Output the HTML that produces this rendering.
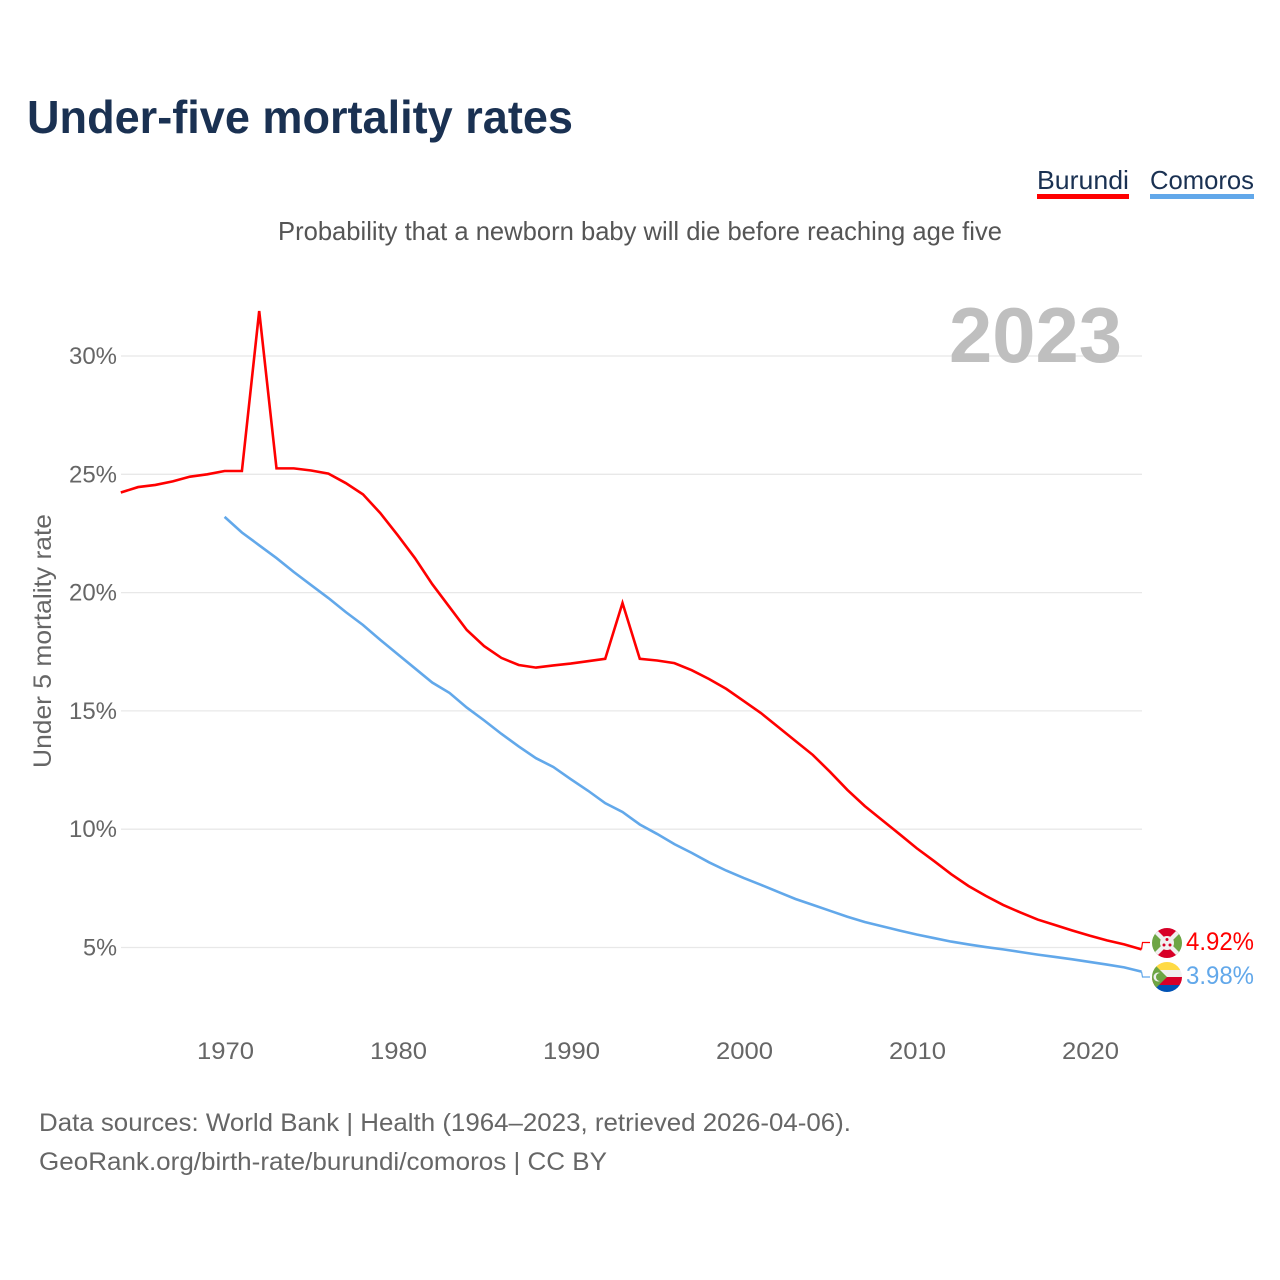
<!DOCTYPE html>
<html lang="en">
<head>
<meta charset="utf-8">
<title>Under-five mortality rates</title>
<style>
html,body{margin:0;padding:0;background:#fff;width:1280px;height:1280px;overflow:hidden}
svg{display:block}
text{font-family:"Liberation Sans",sans-serif}
</style>
</head>
<body>
<svg id="chart" xmlns="http://www.w3.org/2000/svg" width="1280" height="1280" viewBox="0 0 1280 1280">
  <rect width="1280" height="1280" fill="#fff"/>
  <defs>
    <clipPath id="clip-b"><circle cx="1167" cy="943" r="15"/></clipPath>
    <clipPath id="clip-c"><circle cx="1167" cy="977" r="15"/></clipPath>
  </defs>
  <text x="27" y="133" font-size="46" font-weight="700" fill="#1a3152" textLength="546" lengthAdjust="spacingAndGlyphs">Under-five mortality rates</text>
  <g>
    <text x="1037" y="189" font-size="26" fill="#1a3152" textLength="92" lengthAdjust="spacingAndGlyphs">Burundi</text>
    <rect x="1037" y="194" width="92" height="5" fill="#ff0000"/>
  </g>
  <g>
    <text x="1150" y="189" font-size="26" fill="#1a3152" textLength="104" lengthAdjust="spacingAndGlyphs">Comoros</text>
    <rect x="1150" y="194" width="104" height="5" fill="#62a8ea"/>
  </g>
  <text x="278" y="240" font-size="26" fill="#555" textLength="724" lengthAdjust="spacingAndGlyphs">Probability that a newborn baby will die before reaching age five</text>
  <g id="grid"></g>
  <text x="949" y="362" font-size="78" font-weight="700" fill="#bfbfbf" textLength="173" lengthAdjust="spacingAndGlyphs">2023</text>
  <g id="yticks"></g>
  <g id="xticks"></g>
  <text transform="translate(51,768) rotate(-90)" font-size="25" fill="#666" textLength="254" lengthAdjust="spacingAndGlyphs">Under 5 mortality rate</text>
  <g id="series"></g>
  <g clip-path="url(#clip-b)">
    <rect x="1152" y="928" width="30" height="30" fill="#e0e0e0"/>
    <polygon points="1152,928 1182,928 1167,943" fill="#d80027"/>
    <polygon points="1152,958 1182,958 1167,943" fill="#d80027"/>
    <polygon points="1152,928 1152,958 1167,943" fill="#6da544"/>
    <polygon points="1182,928 1182,958 1167,943" fill="#6da544"/>
    <polygon points="1152,928 1155,928 1182,955 1182,958 1179,958 1152,931" fill="#f0f0f0"/>
    <polygon points="1182,928 1179,928 1152,955 1152,958 1155,958 1182,931" fill="#f0f0f0"/>
    <circle cx="1167" cy="943" r="7" fill="#f0f0f0"/>
    <circle cx="1167" cy="939.5" r="1.5" fill="#d80027"/>
    <circle cx="1164" cy="945" r="1.5" fill="#d80027"/>
    <circle cx="1170" cy="945" r="1.5" fill="#d80027"/>
  </g>
  <g clip-path="url(#clip-c)">
    <rect x="1152" y="962" width="30" height="8" fill="#ffda44"/>
    <rect x="1152" y="970" width="30" height="7" fill="#f0f0f0"/>
    <rect x="1152" y="977" width="30" height="8" fill="#d80027"/>
    <rect x="1152" y="985" width="30" height="8" fill="#0052b4"/>
    <polygon points="1152,962 1167,977 1152,992" fill="#6da544"/>
    <circle cx="1158" cy="977" r="4.5" fill="#f0f0f0"/>
    <circle cx="1160" cy="977" r="4" fill="#6da544"/>
  </g>
  <g id="labels"></g>
  <text x="39" y="1131" font-size="25" fill="#666" textLength="812" lengthAdjust="spacingAndGlyphs">Data sources: World Bank | Health (1964–2023, retrieved 2026-04-06).</text>
  <text x="39" y="1170" font-size="25" fill="#666" textLength="568" lengthAdjust="spacingAndGlyphs">GeoRank.org/birth-rate/burundi/comoros | CC BY</text>
</svg>
<script>
const burundiStart = 1964;
const burundiValues = [24.23,24.46,24.55,24.7,24.9,25.0,25.14,25.14,31.9,25.25,25.25,25.16,25.03,24.63,24.15,23.36,22.43,21.46,20.36,19.39,18.42,17.74,17.24,16.94,16.83,16.92,17.0,17.1,17.2,19.56,17.2,17.13,17.02,16.72,16.35,15.93,15.42,14.91,14.32,13.73,13.14,12.42,11.66,10.98,10.39,9.8,9.2,8.66,8.1,7.6,7.18,6.8,6.48,6.18,5.95,5.72,5.5,5.3,5.13,4.92];
const comorosStart = 1970;
const comorosValues = [23.2,22.54,22.0,21.46,20.87,20.32,19.77,19.18,18.63,18.0,17.4,16.8,16.2,15.76,15.14,14.6,14.03,13.5,13.0,12.63,12.12,11.63,11.1,10.73,10.2,9.8,9.37,9.0,8.6,8.25,7.94,7.65,7.35,7.05,6.8,6.55,6.3,6.08,5.9,5.72,5.55,5.4,5.25,5.13,5.02,4.92,4.81,4.7,4.6,4.5,4.39,4.28,4.16,3.98];
const yTickValues = [5,10,15,20,25,30];
const xTickValues = [1970,1980,1990,2000,2010,2020];

const NS = 'http://www.w3.org/2000/svg';
const xScale = year => 224.6 + (year - 1970) * 17.3;
const xTickScale = year => 225.5 + (year - 1970) * 17.3;
const yScale = value => 947.5 - (value - 5) * 23.66;

function make(tag, parent, attrs, content) {
  const el = document.createElementNS(NS, tag);
  for (const k in attrs) el.setAttribute(k, attrs[k]);
  if (content !== undefined) el.textContent = content;
  parent.appendChild(el);
  return el;
}

const grid = document.getElementById('grid');
const yticks = document.getElementById('yticks');
const xticks = document.getElementById('xticks');
const series = document.getElementById('series');
const labels = document.getElementById('labels');

yTickValues.forEach(v => {
  const line = make('line', grid, {x1: 121, x2: 1142, y1: yScale(v), y2: yScale(v), stroke: '#e8e8e8', 'stroke-width': 1.3});
  
  
  const label = v + '%';
  const t = make('text', yticks, {x: 117, y: yScale(v) + 8, 'font-size': 24, fill: '#666', 'text-anchor': 'end', textLength: v >= 10 ? 48 : 34, lengthAdjust: 'spacingAndGlyphs'}, label);
  
  
});

xTickValues.forEach(y => {
  const t = make('text', xticks, {x: xTickScale(y), y: 1059, 'font-size': 24, fill: '#666', 'text-anchor': 'middle', textLength: 57, lengthAdjust: 'spacingAndGlyphs'}, String(y));
  
  
});

function drawSeries(name, start, values, color, leaderY, labelBaseline) {
  const pts = values.map((v, i) => xScale(start + i).toFixed(2) + ',' + yScale(v).toFixed(2)).join(' ');
  const line = make('polyline', series, {points: pts, fill: 'none', stroke: color, 'stroke-width': 2.6, 'stroke-linejoin': 'miter'});
  
  
  const last = values[values.length - 1];
  const lx = xScale(start + values.length - 1);
  const ly = yScale(last);
  const leader = make('polyline', series, {points: lx.toFixed(2) + ',' + ly.toFixed(2) + ' ' + (lx + 1).toFixed(2) + ',' + leaderY + ' 1150,' + leaderY, fill: 'none', stroke: color, 'stroke-width': 1.2});
  
  
  const t = make('text', labels, {x: 1186, y: labelBaseline, 'font-size': 25, fill: color, textLength: 68, lengthAdjust: 'spacingAndGlyphs'}, last.toFixed(2) + '%');
  
  
}

drawSeries('burundi', burundiStart, burundiValues, '#ff0000', 942.5, 950);
drawSeries('comoros', comorosStart, comorosValues, '#62a8ea', 977, 984);
</script>
</body>
</html>
